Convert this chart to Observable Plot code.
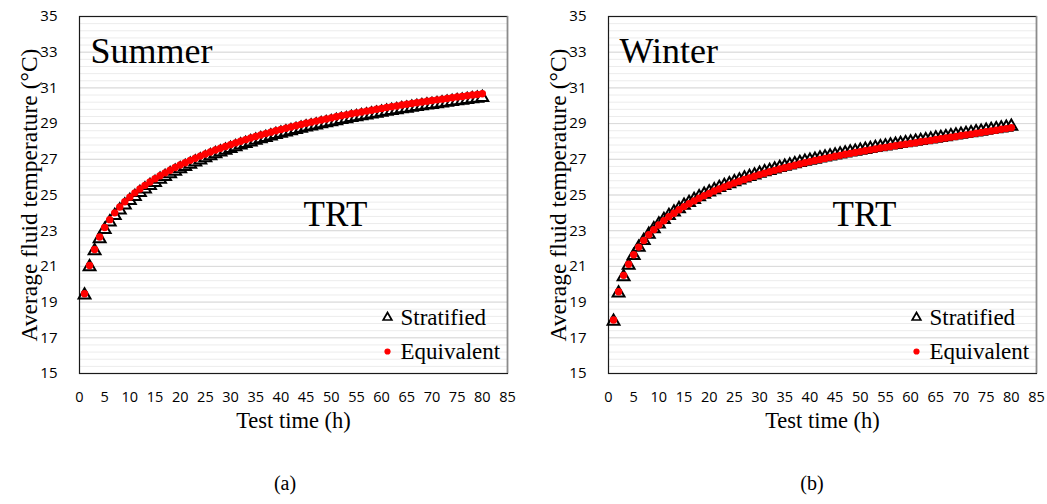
<!DOCTYPE html>
<html>
<head>
<meta charset="utf-8">
<script src="https://cdn.jsdelivr.net/npm/d3@7"></script>
<script src="https://cdn.jsdelivr.net/npm/@observablehq/plot@0.6"></script>
<style>
  html, body { margin: 0; padding: 0; background: #fff; }
  #wrap { position: relative; width: 1047px; height: 504px; background: #fff; overflow: hidden; }
  .panel { position: absolute; top: 0; }
  .cap { position: absolute; top: 472px; font-family: "Liberation Serif", "Times New Roman", serif; font-size: 20px; color: #000; transform: translateX(-50%); }
</style>
</head>
<body>
<div id="wrap">
  <div class="panel" id="pa" style="left:0px"></div>
  <div class="panel" id="pb" style="left:523px"></div>
  <div class="cap" style="left:285px">(a)</div>
  <div class="cap" style="left:812px">(b)</div>
</div>
<script>
// ---- data ----
const time = [1,2,3,4,5,6,7,8,9,10,11,12,13,14,15,16,17,18,19,20,
  21,22,23,24,25,26,27,28,29,30,31,32,33,34,35,36,37,38,39,40,
  41,42,43,44,45,46,47,48,49,50,51,52,53,54,55,56,57,58,59,60,
  61,62,63,64,65,66,67,68,69,70,71,72,73,74,75,76,77,78,79,80];

const summerStratified = [19.47,21.05,21.95,22.63,23.14,23.56,23.92,24.23,24.51,24.76,
  24.99,25.21,25.41,25.60,25.78,25.95,26.11,26.26,26.41,26.55,
  26.67,26.80,26.92,27.04,27.16,27.27,27.38,27.48,27.58,27.68,
  27.78,27.87,27.96,28.05,28.14,28.22,28.30,28.38,28.46,28.53,
  28.60,28.67,28.74,28.81,28.88,28.94,29.00,29.06,29.12,29.18,
  29.24,29.30,29.35,29.41,29.46,29.51,29.56,29.61,29.66,29.71,
  29.76,29.81,29.85,29.90,29.94,29.99,30.03,30.07,30.11,30.15,
  30.19,30.23,30.27,30.31,30.35,30.38,30.42,30.46,30.49,30.53];

const summerEquivalent = [19.47,21.05,21.95,22.65,23.18,23.62,24.00,24.33,24.62,24.88,
  25.12,25.34,25.54,25.73,25.91,26.08,26.24,26.39,26.54,26.68,
  26.81,26.94,27.06,27.18,27.30,27.41,27.52,27.62,27.72,27.82,
  27.92,28.01,28.10,28.19,28.28,28.36,28.44,28.52,28.60,28.67,
  28.74,28.81,28.88,28.95,29.02,29.08,29.14,29.20,29.26,29.32,
  29.38,29.44,29.49,29.55,29.60,29.65,29.70,29.75,29.80,29.85,
  29.90,29.95,29.99,30.04,30.08,30.13,30.17,30.21,30.25,30.29,
  30.33,30.37,30.41,30.45,30.49,30.52,30.56,30.60,30.63,30.67];

const winterStratified = [18.00,19.58,20.50,21.14,21.69,22.14,22.53,22.87,23.18,23.45,
  23.70,23.92,24.12,24.31,24.50,24.66,24.82,24.97,25.11,25.24,
  25.37,25.49,25.60,25.71,25.82,25.92,26.02,26.11,26.20,26.29,
  26.37,26.45,26.53,26.61,26.68,26.75,26.82,26.89,26.96,27.02,
  27.08,27.14,27.20,27.26,27.32,27.37,27.43,27.48,27.53,27.58,
  27.63,27.68,27.73,27.78,27.82,27.87,27.91,27.96,28.00,28.04,
  28.08,28.13,28.17,28.21,28.26,28.30,28.34,28.39,28.43,28.48,
  28.52,28.56,28.61,28.65,28.70,28.74,28.78,28.83,28.87,28.92];

const winterEquivalent = [18.00,19.58,20.50,21.12,21.65,22.08,22.45,22.77,23.06,23.32,
  23.56,23.78,23.98,24.17,24.35,24.51,24.67,24.82,24.96,25.09,
  25.22,25.34,25.45,25.56,25.67,25.77,25.87,25.96,26.05,26.14,
  26.22,26.30,26.38,26.46,26.53,26.60,26.67,26.74,26.81,26.87,
  26.93,26.99,27.05,27.11,27.17,27.22,27.28,27.33,27.38,27.43,
  27.48,27.53,27.58,27.63,27.67,27.72,27.76,27.81,27.85,27.89,
  27.93,27.98,28.02,28.06,28.11,28.15,28.19,28.24,28.28,28.33,
  28.37,28.41,28.46,28.50,28.55,28.59,28.63,28.68,28.72,28.77];

const xTicks = [0,5,10,15,20,25,30,35,40,45,50,55,60,65,70,75,80,85];
const yTicks = [15,17,19,21,23,25,27,29,31,33,35];
const seriesNames = ["Stratified", "Equivalent"];
const panelTitles = ["Summer", "Winter"];
const annotation = "TRT";
const xTitle = "Test time (h)";
const yTitle = "Average fluid temperature (\u00B0C)";

// ---- drawing ----
const serif = "Liberation Serif, Times New Roman, serif";
const minorGrid = d3.range(0, 51).map(i => 15 + i * 0.4);

function panel(title, strat, equiv, width, marginLeft, marginRight) {
  const rows = time.map((t, i) => ({t, strat: strat[i], equiv: equiv[i]}));
  return Plot.plot({
    width, height: 440,
    marginLeft, marginRight, marginTop: 16, marginBottom: 67,
    style: {fontFamily: "Open Sans, sans-serif", fontSize: "15px", background: "white", color: "#000"},
    x: {domain: [0, 85]},
    y: {domain: [15, 35]},
    marks: [
      Plot.ruleY(minorGrid, {stroke: "#ececec", strokeWidth: 1}),
      Plot.ruleY(yTicks, {stroke: "#d9d9d9", strokeWidth: 1}),
      Plot.frame({stroke: "#1a1a1a", strokeWidth: 1.2}),
      Plot.ruleX([85], {stroke: "#8c8c8c", strokeWidth: 1.5}),
      Plot.axisX({ticks: xTicks, tickSize: 0, tickPadding: 18, label: null, fontSize: 14.5, fill: "#000"}),
      Plot.axisY({ticks: yTicks, tickSize: 0, tickPadding: 22, label: null, fontSize: 15, fill: "#000"}),
      Plot.dot(rows, {x: "t", y: "strat", symbol: "triangle", r: 4.4, fill: "white", stroke: "black", strokeWidth: 2, dy: 1.4}),
      Plot.dot(rows, {x: "t", y: "equiv", r: 3.7, fill: "#ff0000", stroke: null}),
      // legend
      Plot.dot([seriesNames[0]], {x: null, y: null, frameAnchor: "bottom-right", dx: -120, dy: -56, symbol: "triangle", r: 3.2, fill: "white", stroke: "black", strokeWidth: 1.7}),
      Plot.dot([seriesNames[1]], {x: null, y: null, frameAnchor: "bottom-right", dx: -120, dy: -22, r: 3.1, fill: "#ff0000", stroke: null}),
      Plot.text([seriesNames[0]], {x: null, y: null, text: d => d, frameAnchor: "bottom-right", dx: -107, dy: -49, textAnchor: "start", lineAnchor: "bottom", fontFamily: serif, fontSize: 23, fill: "#000"}),
      Plot.text([seriesNames[1]], {x: null, y: null, text: d => d, frameAnchor: "bottom-right", dx: -107, dy: -15, textAnchor: "start", lineAnchor: "bottom", fontFamily: serif, fontSize: 23, fill: "#000"}),
      // annotations
      Plot.text([title], {x: null, y: null, text: d => d, frameAnchor: "top-left", dx: 11, dy: 46, textAnchor: "start", lineAnchor: "bottom", fontFamily: serif, fontSize: 36, fill: "#000"}),
      Plot.text([annotation], {x: null, y: null, text: d => d, frameAnchor: "top-left", dx: 256, dy: 209, textAnchor: "middle", lineAnchor: "bottom", fontFamily: serif, fontSize: 35, fill: "#000"}),
      // axis titles
      Plot.text([xTitle], {x: null, y: null, text: d => d, frameAnchor: "bottom", dy: 54, textAnchor: "middle", lineAnchor: "bottom", fontFamily: serif, fontSize: 22.5, fill: "#000"}),
      Plot.text([yTitle], {x: null, y: null, text: d => d, frameAnchor: "left", dx: -43, rotate: -90, textAnchor: "middle", lineAnchor: "bottom", fontFamily: serif, fontSize: 23.5, fill: "#000"})
    ]
  });
}

document.getElementById("pa").append(panel(panelTitles[0], summerStratified, summerEquivalent, 523, 79, 16));
document.getElementById("pb").append(panel(panelTitles[1], winterStratified, winterEquivalent, 524, 85, 11));
</script>
</body>
</html>
